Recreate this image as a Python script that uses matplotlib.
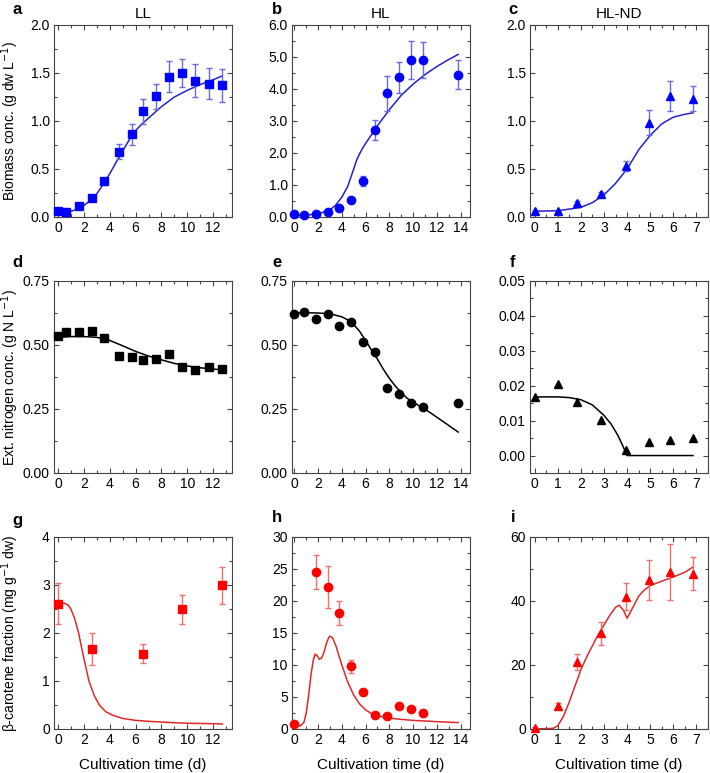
import matplotlib
matplotlib.use('Agg')
import matplotlib.pyplot as plt
from matplotlib.ticker import MultipleLocator, FormatStrFormatter

plt.rcParams['font.family'] = ['Liberation Sans', 'DejaVu Sans']

# ---- LL (squares) ----
t_ll = [0, 0.6, 1.6, 2.6, 3.6, 4.7, 5.7, 6.6, 7.6, 8.6, 9.6, 10.6, 11.7, 12.7]
bio_ll = [0.06, 0.05, 0.11, 0.20, 0.37, 0.68, 0.86, 1.10, 1.26, 1.46, 1.50, 1.42, 1.39, 1.37]
bio_ll_err = [0.01, 0.01, 0.02, 0.02, 0.04, 0.08, 0.11, 0.13, 0.13, 0.16, 0.15, 0.17, 0.16, 0.17]
fit_t_ll = [0.5, 1, 1.5, 2, 2.5, 3, 3.5, 4, 4.5, 5, 5.5, 6, 6.5, 7, 8, 9, 10, 11, 12, 12.7]
fit_bio_ll = [0.05, 0.06, 0.08, 0.12, 0.17, 0.24, 0.34, 0.45, 0.57, 0.69, 0.80, 0.90, 0.97, 1.03,
              1.15, 1.25, 1.32, 1.38, 1.43, 1.47]
nit_ll = [0.536, 0.55, 0.55, 0.556, 0.526, 0.458, 0.453, 0.442, 0.445, 0.464, 0.415, 0.404, 0.415, 0.407]
fit_t_ll_n = [0, 1, 2, 3, 4, 5, 6, 7, 8, 9, 10, 11, 12, 12.7]
fit_nit_ll = [0.53, 0.533, 0.533, 0.53, 0.518, 0.497, 0.475, 0.457, 0.442, 0.428, 0.418, 0.411, 0.406, 0.403]
t_ll_car = [0, 2.6, 6.6, 9.6, 12.7]
car_ll = [2.61, 1.67, 1.57, 2.49, 2.99]
car_ll_err = [0.43, 0.33, 0.20, 0.31, 0.38]
fit_t_ll_c = [0, 0.5, 0.8, 1.0, 1.3, 1.6, 2.0, 2.4, 2.8, 3.2, 3.7, 4.2, 5, 6, 7, 8, 9, 10, 11, 12, 12.7]
fit_car_ll = [2.62, 2.62, 2.58, 2.5, 2.3, 2.0, 1.48, 1.0, 0.7, 0.5, 0.36, 0.29, 0.22, 0.18, 0.16,
              0.145, 0.13, 0.12, 0.115, 0.11, 0.105]

# ---- HL (circles) ----
t_hl = [0, 0.8, 1.8, 2.8, 3.8, 4.8, 5.8, 6.8, 7.8, 8.8, 9.8, 10.8, 13.8]
bio_hl = [0.09, 0.07, 0.09, 0.16, 0.28, 0.53, 1.13, 2.73, 3.86, 4.36, 4.91, 4.90, 4.45]
bio_hl_err = [0.02, 0.02, 0.02, 0.03, 0.04, 0.05, 0.15, 0.31, 0.54, 0.47, 0.60, 0.57, 0.46]
fit_t_hl = [0, 1, 2, 3, 3.5, 4, 4.5, 5, 5.25, 5.5, 5.75, 6, 6.5, 7, 7.5, 8, 9, 10, 11, 12, 13, 13.8]
fit_bio_hl = [0.05, 0.06, 0.1, 0.22, 0.38, 0.62, 0.96, 1.5, 1.78, 1.98, 2.15, 2.3, 2.57, 2.85, 3.1,
              3.35, 3.8, 4.15, 4.45, 4.7, 4.92, 5.08]
nit_hl = [0.622, 0.63, 0.603, 0.623, 0.574, 0.588, 0.51, 0.473, 0.333, 0.309, 0.275, 0.257, 0.274]
fit_t_hl_n = [0, 1, 2, 3, 4, 4.5, 5, 5.5, 6, 6.5, 7, 7.5, 8, 8.5, 9, 9.5, 10, 10.5, 11, 12, 13, 13.8]
fit_nit_hl = [0.625, 0.626, 0.625, 0.622, 0.61, 0.598, 0.58, 0.553, 0.518, 0.48, 0.445, 0.405, 0.37,
              0.34, 0.315, 0.292, 0.277, 0.263, 0.25, 0.218, 0.186, 0.16]
t_hl_car = [0, 1.8, 2.8, 3.8, 4.8, 5.8, 6.8, 7.8, 8.8, 9.8, 10.8]
car_hl = [0.73, 24.5, 22.2, 18.1, 9.8, 5.75, 2.25, 2.0, 3.66, 3.19, 2.46]
car_hl_err = [0.2, 2.7, 3.3, 1.9, 1.0, 0.5, 0.2, 0.2, 0.3, 0.3, 0.2]
fit_t_hl_c = [0, 0.5, 0.8, 1.0, 1.2, 1.4, 1.6, 1.75, 1.9, 2.1, 2.3, 2.5, 2.7, 2.9, 3.0, 3.2, 3.5,
              4, 4.5, 5, 5.5, 6, 6.5, 7, 8, 9, 10, 11, 12, 13, 13.8]
fit_car_hl = [0.5, 0.5, 1.0, 2.5, 5.2, 8.5, 10.8, 11.7, 11.5, 10.9, 11.1, 12.0, 13.4, 14.3, 14.5,
              14.3, 13.0, 10.0, 7.3, 5.3, 3.9, 3.0, 2.4, 2.05, 1.7, 1.5, 1.35, 1.25, 1.15, 1.07, 1.0]

# ---- HL-ND (triangles) ----
t_nd = [0, 1, 1.85, 2.85, 3.95, 4.95, 5.85, 6.85]
bio_nd = [0.06, 0.06, 0.15, 0.24, 0.53, 0.98, 1.26, 1.23]
bio_nd_err = [0.01, 0.01, 0.02, 0.02, 0.05, 0.13, 0.16, 0.13]
fit_t_nd = [0, 1, 2, 2.5, 3, 3.5, 4, 4.5, 5, 5.5, 6, 6.5, 6.85]
fit_bio_nd = [0.06, 0.065, 0.10, 0.15, 0.23, 0.35, 0.50, 0.70, 0.85, 0.97, 1.04, 1.07, 1.085]
nit_nd = [0.0169, 0.0205, 0.0153, 0.0102, 0.0017, 0.0040, 0.0044, 0.0051]
fit_t_nd_n = [0, 1, 1.5, 2, 2.5, 3, 3.3, 3.6, 3.8, 4.0, 4.5, 5, 6, 6.85]
fit_nit_nd = [0.0168, 0.0168, 0.0166, 0.016, 0.0145, 0.0115, 0.0091, 0.0058, 0.003, 0.0, 0.0, 0.0, 0.0, 0.0]
car_nd = [0.4, 7.1, 20.8, 29.9, 41.3, 46.6, 49.0, 48.5]
car_nd_err = [0.3, 1.0, 2.5, 3.6, 4.2, 6.3, 8.7, 5.1]
fit_t_nd_c = [0, 0.8, 1, 1.25, 1.5, 1.75, 2, 2.25, 2.5, 2.75, 3, 3.25, 3.5, 3.66, 3.85, 4.0, 4.25,
              4.5, 4.75, 5, 5.5, 6, 6.5, 6.85]
fit_car_nd = [0, 0.2, 1.0, 4, 8.5, 13.5, 18.5, 22.5, 26, 29.5, 32.5, 35.5, 38, 38.7, 37, 34.6, 38,
              41.5, 43.5, 44.8, 46.2, 47.5, 49, 50.6]

BLUE = '#0000ff'
BLUE_LINE = '#2222c8'
BLUE_ERR = '#6a6ae6'
RED = '#ff0000'
RED_LINE = '#e02828'
RED_ERR = '#f07070'

W, H = 710, 773
fig = plt.figure(figsize=(W / 100, H / 100), dpi=100)

lefts = [54, 292, 530]
tops = [25, 281, 537]
aw, ah = 178, 192


def make_axes(row, col):
    l = lefts[col]
    t = tops[row]
    return fig.add_axes([l / W, (H - t - ah) / H, aw / W, ah / H])


def style(ax, xlim, xmaj, xmin, ylim, ymaj, ymin, yfmt):
    ax.set_xlim(xlim)
    ax.set_ylim(ylim)
    ax.xaxis.set_major_locator(MultipleLocator(xmaj))
    ax.xaxis.set_minor_locator(MultipleLocator(xmin))
    ax.yaxis.set_major_locator(MultipleLocator(ymaj))
    ax.yaxis.set_minor_locator(MultipleLocator(ymin))
    ax.yaxis.set_major_formatter(FormatStrFormatter(yfmt))
    ax.tick_params(which='both', direction='in', top=True, right=True, labelsize=10,
                   color='#444444', width=0.8)
    ax.tick_params(which='major', length=3.5, pad=3)
    ax.tick_params(which='minor', length=2)
    for s in ax.spines.values():
        s.set_color('#444444')
        s.set_linewidth(0.8)


def panel(ax, x, y, err, fx, fy, marker, ms, color, lcolor, ecolor):
    ax.plot(fx, fy, '-', color=lcolor, lw=1.1, zorder=2)
    if err is not None:
        ax.errorbar(x, y, yerr=err, fmt='none', ecolor=ecolor, elinewidth=1.0,
                    capsize=2.2, capthick=1.0, zorder=3)
    ax.plot(x, y, linestyle='none', marker=marker, ms=ms, color=color, mec=color, zorder=4,
            clip_on=False)


# row 1: biomass
ax = make_axes(0, 0)
panel(ax, t_ll, bio_ll, bio_ll_err, fit_t_ll, fit_bio_ll, 's', 5.3, BLUE, BLUE_LINE, BLUE_ERR)
style(ax, (-0.3, 13.45), 2, 1, (0, 2.0), 0.5, 0.25, '%.1f')
ax.set_ylabel('Biomass conc. (g dw L$^{-1}$)', fontsize=10)
ax.set_title('LL', fontsize=11, pad=5)

ax = make_axes(0, 1)
panel(ax, t_hl, bio_hl, bio_hl_err, fit_t_hl, fit_bio_hl, 'o', 6, BLUE, BLUE_LINE, BLUE_ERR)
style(ax, (-0.2, 14.8), 2, 1, (0, 6.0), 1.0, 0.5, '%.1f')
ax.set_title('HL', fontsize=11, pad=5)

ax = make_axes(0, 2)
panel(ax, t_nd, bio_nd, bio_nd_err, fit_t_nd, fit_bio_nd, '^', 6, BLUE, BLUE_LINE, BLUE_ERR)
style(ax, (-0.2, 7.5), 1, 0.5, (0, 2.0), 0.5, 0.25, '%.1f')
ax.set_title('HL-ND', fontsize=11, pad=5)

# row 2: nitrogen
ax = make_axes(1, 0)
panel(ax, t_ll, nit_ll, None, fit_t_ll_n, fit_nit_ll, 's', 5.3, 'black', 'black', None)
style(ax, (-0.3, 13.45), 2, 1, (0, 0.75), 0.25, 0.125, '%.2f')
ax.set_ylabel('Ext. nitrogen conc. (g N L$^{-1}$)', fontsize=10)

ax = make_axes(1, 1)
panel(ax, t_hl, nit_hl, None, fit_t_hl_n, fit_nit_hl, 'o', 6, 'black', 'black', None)
style(ax, (-0.2, 14.8), 2, 1, (0, 0.75), 0.25, 0.125, '%.2f')

ax = make_axes(1, 2)
panel(ax, t_nd, nit_nd, None, fit_t_nd_n, fit_nit_nd, '^', 6, 'black', 'black', None)
style(ax, (-0.2, 7.5), 1, 0.5, (-0.005, 0.05), 0.01, 0.005, '%.2f')

# row 3: beta-carotene
ax = make_axes(2, 0)
panel(ax, t_ll_car, car_ll, car_ll_err, fit_t_ll_c, fit_car_ll, 's', 5.3, RED, RED_LINE, RED_ERR)
style(ax, (-0.3, 13.45), 2, 1, (0, 4), 1, 0.5, '%d')
ax.set_ylabel('β-carotene fraction (mg g$^{-1}$ dw)', fontsize=10)
ax.set_xlabel('Cultivation time (d)', fontsize=11, labelpad=8)

ax = make_axes(2, 1)
panel(ax, t_hl_car, car_hl, car_hl_err, fit_t_hl_c, fit_car_hl, 'o', 6, RED, RED_LINE, RED_ERR)
style(ax, (-0.2, 14.8), 2, 1, (0, 30), 5, 2.5, '%d')
ax.set_xlabel('Cultivation time (d)', fontsize=11, labelpad=8)

ax = make_axes(2, 2)
panel(ax, t_nd, car_nd, car_nd_err, fit_t_nd_c, fit_car_nd, '^', 6, RED, RED_LINE, RED_ERR)
style(ax, (-0.2, 7.5), 1, 0.5, (0, 60), 20, 10, '%d')
ax.set_xlabel('Cultivation time (d)', fontsize=11, labelpad=8)

# align the y labels
for a in fig.axes[0::3]:
    a.yaxis.set_label_coords(-0.185, 0.5)

letters = [('a', 17, 10), ('b', 277, 10), ('c', 513, 10),
           ('d', 17, 262), ('e', 277, 262), ('f', 513, 262),
           ('g', 17, 520), ('h', 277, 518), ('i', 513, 518)]
for s, px, py in letters:
    fig.text(px / W, 1 - py / H, s, fontsize=12, fontweight='bold', ha='center', va='center')

fig.savefig('out.png', dpi=100)
